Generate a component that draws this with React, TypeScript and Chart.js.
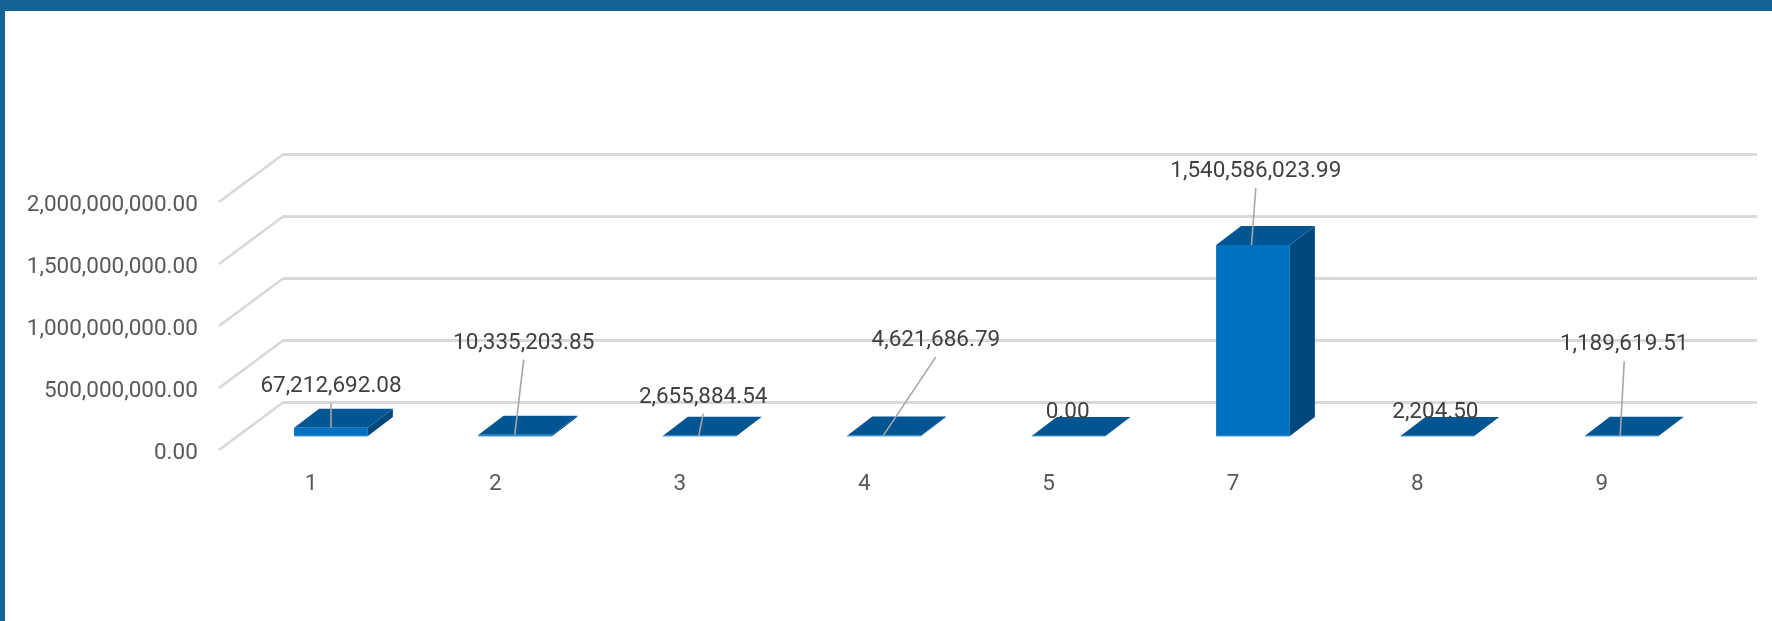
import React, { useEffect, useRef } from "react";
import { Chart, registerables } from "chart.js";

Chart.register(...registerables);

const categories = ["1", "2", "3", "4", "5", "7", "8", "9"];
const values = [67212692.08, 10335203.85, 2655884.54, 4621686.79, 0, 1540586023.99, 2204.5, 1189619.51];
const yTicks = [0, 500000000, 1000000000, 1500000000, 2000000000];

// Manual label placement: [label dx, label dy, leader end dx] relative to bar front-top centre
const labelLayout: [number, number, number | null][] = [
  [0, -41, 0],
  [8.3, -91.5, -0.6],
  [3.4, -38.5, -1],
  [51.7, -95, -0.8],
  [-1, -24, null],
  [2.8, -73.5, -1.5],
  [-2, -24, null],
  [2.4, -91, -1.6],
];

const FONT = "Roboto";
const FONT_SIZE = 22.5;
const DX = 25;
const DY = 19;
const WALL_DX = 64;
const WALL_DY = 47.5;
const WALL_RIGHT = 1757;
// pixel lift of the bars' floor above the axis plane = 14px of 248px span
const LIFT = (14 / 248) * 2000000000;

const fmt = (v: number) =>
  v.toLocaleString("en-US", { minimumFractionDigits: 2, maximumFractionDigits: 2 });

const threeD = {
  id: "threeD",
  beforeDatasetsDraw(chart: any) {
    const { ctx } = chart;
    const y = chart.scales.y;
    ctx.save();
    ctx.strokeStyle = "#d9d9d9";
    ctx.lineWidth = 2.8;
    ctx.lineJoin = "round";
    const x0 = chart.chartArea.left - 19.8;
    yTicks.forEach((t) => {
      const py = y.getPixelForValue(t);
      ctx.beginPath();
      ctx.moveTo(x0, py);
      ctx.lineTo(x0 + WALL_DX, py - WALL_DY);
      ctx.lineTo(WALL_RIGHT, py - WALL_DY);
      ctx.stroke();
    });
    chart.getDatasetMeta(0).data.forEach((b: any) => {
      const l = b.x - b.width / 2;
      const r = b.x + b.width / 2;
      // side
      ctx.fillStyle = "#00487c";
      ctx.beginPath();
      ctx.moveTo(r, b.y);
      ctx.lineTo(r + DX, b.y - DY);
      ctx.lineTo(r + DX, b.base - DY);
      ctx.lineTo(r, b.base);
      ctx.closePath();
      ctx.fill();
      // top
      ctx.fillStyle = "#005592";
      ctx.beginPath();
      ctx.moveTo(l, b.y);
      ctx.lineTo(l + DX, b.y - DY);
      ctx.lineTo(r + DX, b.y - DY);
      ctx.lineTo(r, b.y);
      ctx.closePath();
      ctx.fill();
    });
    ctx.restore();
  },
  afterDatasetsDraw(chart: any) {
    const { ctx } = chart;
    const meta = chart.getDatasetMeta(0);
    ctx.save();
    meta.data.forEach((b: any) => {
      const l = b.x - b.width / 2;
      ctx.fillStyle = "#4a9fd8";
      ctx.fillRect(l, b.base - 0.5, b.width, 1);
    });
    ctx.font = `${FONT_SIZE}px ${FONT}`;
    ctx.textAlign = "center";
    ctx.textBaseline = "middle";
    meta.data.forEach((b: any, i: number) => {
      const [dx, dy, end] = labelLayout[i];
      const lx = b.x + dx;
      const ly = b.y + dy;
      if (end !== null) {
        ctx.strokeStyle = "#a6a6a6";
        ctx.lineWidth = 1.6;
        ctx.beginPath();
        ctx.moveTo(lx, ly + 16.5);
        ctx.lineTo(b.x + end, b.y);
        ctx.stroke();
      }
      ctx.fillStyle = "#404040";
      ctx.fillText(fmt(values[i]), lx, ly);
    });
    ctx.restore();
  },
};

export default function App() {
  const ref = useRef<HTMLCanvasElement>(null);
  useEffect(() => {
    const chart = new Chart(ref.current!, {
      type: "bar",
      data: {
        labels: categories,
        datasets: [
          {
            data: values,
            yAxisID: "yBars",
            backgroundColor: "#0070c0",
            borderWidth: 0,
            barPercentage: 0.4,
            categoryPercentage: 1,
          },
        ],
      },
      options: {
        animation: false,
        responsive: false,
        layout: { padding: { top: 202, right: 58, left: 0, bottom: 0 } },
        plugins: { legend: { display: false }, tooltip: { enabled: false } },
        scales: {
          x: {
            border: { display: false },
            grid: { display: false, drawTicks: false },
            ticks: {
              autoSkip: false,
              maxRotation: 0,
              labelOffset: -20,
              padding: 20.5,
              color: "#595959",
              font: { family: FONT, size: FONT_SIZE },
            },
            afterFit(s: any) {
              s.height = 171;
            },
          },
          y: {
            min: 0,
            max: 2000000000,
            border: { display: false },
            grid: { display: false, drawTicks: false },
            afterBuildTicks(s: any) {
              s.ticks = yTicks.map((value) => ({ value }));
            },
            ticks: {
              padding: 41,
              labelOffset: 3.5,
              color: "#595959",
              font: { family: FONT, size: FONT_SIZE },
              callback: (v: any) => fmt(Number(v)),
            },
            afterFit(s: any) {
              s.width = 238.8;
            },
          },
          yBars: {
            display: false,
            min: -LIFT,
            max: 2000000000 - LIFT,
          },
        },
      },
      plugins: [threeD],
    });
    return () => chart.destroy();
  }, []);
  return (
    <div style={{ position: "absolute", left: 0, top: 0, width: 1772, height: 621, overflow: "hidden", background: "#fff" }}>
      <canvas ref={ref} width={1772} height={621} style={{ display: "block" }} />
      <div style={{ position: "absolute", left: 0, top: 0, width: 1772, height: 11, background: "#156295" }} />
      <div style={{ position: "absolute", left: 0, top: 0, width: 5, height: 621, background: "#156295" }} />
    </div>
  );
}
